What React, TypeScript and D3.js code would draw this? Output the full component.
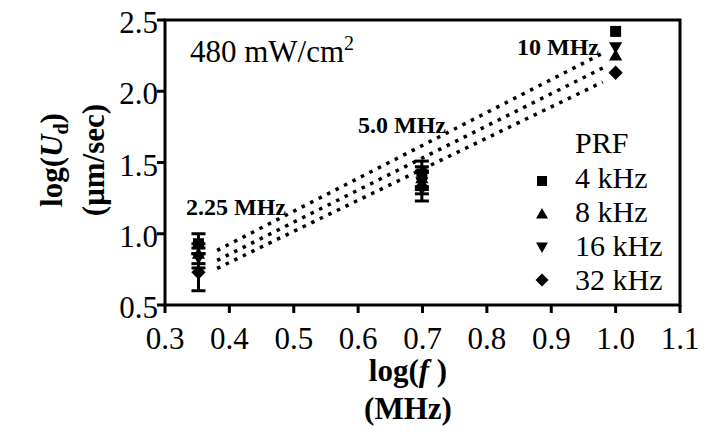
import React from "react";
import * as d3 from "d3";

const xTicks = [0.3, 0.4, 0.5, 0.6, 0.7, 0.8, 0.9, 1.0, 1.1];
const yTicks = [0.5, 1.0, 1.5, 2.0, 2.5];

const seriesNames = ["4 kHz", "8 kHz", "16 kHz", "32 kHz"];
const seriesSymbols = ["square", "up", "down", "diamond"];

const logF = [0.352, 0.699, 1.0];
const vals4 = [0.93, 1.42, 2.42];
const vals8 = [0.86, 1.39, 2.25];
const vals16 = [0.83, 1.36, 2.31];
const vals32 = [0.73, 1.33, 2.13];
const err4 = [0.07, 0.09, 0];
const err8 = [0.07, 0.08, 0];
const err16 = [0.07, 0.08, 0];
const err32 = [0.13, 0.1, 0];

const freqLabels = ["2.25 MHz", "5.0 MHz", "10 MHz"];

const fitX = [0.381, 0.98];
const fitTop = [0.883, 2.267];
const fitMid = [0.813, 2.163];
const fitBot = [0.757, 2.065];

const FONT = "Liberation Serif, Times New Roman, Times, serif";

const W = 710;
const H = 448;
const L = 165, R = 680, T = 20, B = 305;

function marker(type: string, cx: number, cy: number, r: number, key: string) {
  if (type === "square") {
    return <rect key={key} x={cx - r} y={cy - r} width={2 * r} height={2 * r} fill="#000" />;
  }
  let pts: number[][] = [];
  if (type === "up") pts = [[cx, cy - r * 1.2], [cx + r * 1.2, cy + r * 0.9], [cx - r * 1.2, cy + r * 0.9]];
  if (type === "down") pts = [[cx, cy + r * 1.2], [cx + r * 1.2, cy - r * 0.9], [cx - r * 1.2, cy - r * 0.9]];
  if (type === "diamond") pts = [[cx, cy - r * 1.3], [cx + r * 1.3, cy], [cx, cy + r * 1.3], [cx - r * 1.3, cy]];
  return <polygon key={key} points={pts.map((p) => p.join(",")).join(" ")} fill="#000" />;
}

export default function App() {
  const x = d3.scaleLinear().domain([0.3, 1.1]).range([L, R]);
  const y = d3.scaleLinear().domain([0.5, 2.5]).range([B, T]);

  const allVals = [vals4, vals8, vals16, vals32];
  const allErr = [err4, err8, err16, err32];
  const fits = [fitTop, fitMid, fitBot];

  const line = d3
    .line<[number, number]>()
    .x((d) => x(d[0]))
    .y((d) => y(d[1]));

  const freqLabelPos = [
    [236, 215],
    [402, 133],
    [558, 55],
  ];

  const ts = { fontFamily: FONT };

  return (
    <svg
      width={W}
      height={H}
      style={{ position: "absolute", left: 0, top: 0, background: "#fff", fontFamily: FONT }}
    >
      <rect x={0} y={0} width={W} height={H} fill="#fff" />
      {fits.map((f, i) => (
        <path
          key={"fit" + i}
          d={line(fitX.map((fx, j) => [fx, f[j]]) as [number, number][]) || ""}
          fill="none"
          stroke="#000"
          strokeWidth={3.5}
          strokeDasharray="3.5 6"
        />
      ))}
      {allVals.map((vals, si) =>
        vals.map((v, i) => {
          const e = allErr[si][i];
          if (!e) return null;
          const cx = x(logF[i]);
          return (
            <g key={`eb${si}-${i}`} stroke="#000" strokeWidth={3}>
              <line x1={cx} x2={cx} y1={y(v + e)} y2={y(v - e)} />
              <line x1={cx - 7} x2={cx + 7} y1={y(v + e)} y2={y(v + e)} />
              <line x1={cx - 7} x2={cx + 7} y1={y(v - e)} y2={y(v - e)} />
            </g>
          );
        })
      )}
      {allVals.map((vals, si) =>
        vals.map((v, i) => marker(seriesSymbols[si], x(logF[i]), y(v), 5.5, `m${si}-${i}`))
      )}
      <rect x={L} y={T} width={R - L} height={B - T} fill="none" stroke="#000" strokeWidth={3} />
      {xTicks.map((t) => (
        <g key={"xt" + t}>
          <line x1={x(t)} x2={x(t)} y1={B} y2={B + 8} stroke="#000" strokeWidth={3} />
          <text x={x(t)} y={B + 44} textAnchor="middle" fontSize={31} style={ts}>
            {t.toFixed(1)}
          </text>
        </g>
      ))}
      {yTicks.map((t) => (
        <g key={"yt" + t}>
          <line x1={L - 8} x2={L} y1={y(t)} y2={y(t)} stroke="#000" strokeWidth={3} />
          <text x={L - 7} y={y(t) + 13} textAnchor="end" fontSize={31} style={ts}>
            {t.toFixed(1)}
          </text>
        </g>
      ))}
      <text x={408} y={381} textAnchor="middle" fontSize={31} fontWeight="bold" style={ts}>
        log(<tspan fontStyle="italic">f</tspan> )
      </text>
      <text x={408} y={419} textAnchor="middle" fontSize={31} fontWeight="bold" style={ts}>
        (MHz)
      </text>
      <text transform="translate(62,160) rotate(-90)" textAnchor="middle" fontSize={31} fontWeight="bold" style={ts}>
        log(<tspan fontStyle="italic">U</tspan>
        <tspan fontSize={20} dy={6}>d</tspan>
        <tspan dy={-6}>)</tspan>
      </text>
      <text transform="translate(104,160) rotate(-90)" textAnchor="middle" fontSize={31} fontWeight="bold" style={ts}>
        (μm/sec)
      </text>
      <text x={190} y={62} fontSize={31} style={ts}>
        480 mW/cm<tspan fontSize={20} dy={-12}>2</tspan>
      </text>
      {freqLabels.map((lab, i) => (
        <text
          key={lab}
          x={freqLabelPos[i][0]}
          y={freqLabelPos[i][1]}
          textAnchor="middle"
          fontSize={24}
          fontWeight="bold"
          style={ts}
        >
          {lab}
        </text>
      ))}
      <text x={575} y={153} fontSize={30} style={ts}>
        PRF
      </text>
      {seriesNames.map((n, i) => (
        <g key={n}>
          {marker(seriesSymbols[i], 542, 181 + i * 33, 5, "lg" + i)}
          <text x={575} y={188 + i * 34} fontSize={30} style={ts}>
            {n}
          </text>
        </g>
      ))}
    </svg>
  );
}
